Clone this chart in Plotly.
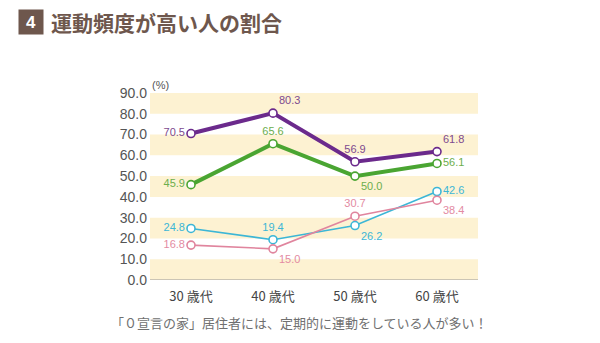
import plotly.graph_objects as go

# Age groups on the x axis
ages = ["30 歳代", "40 歳代", "50 歳代", "60 歳代"]

# Share of people who exercise frequently (%)
purple_vals = [70.5, 80.3, 56.9, 61.8]
green_vals = [45.9, 65.6, 50.0, 56.1]
blue_vals = [24.8, 19.4, 26.2, 42.6]
pink_vals = [16.8, 15.0, 30.7, 38.4]

y_ticks = [0, 10, 20, 30, 40, 50, 60, 70, 80, 90]

JP_FONT = "Noto Sans CJK JP"
NUM_FONT = "Liberation Sans, Arial"

series = [
    # values, line colour, label colour, width, label positions
    (purple_vals, "#6b2a8c", "#7d4a8f", 4,
     ["middle left", "top right", "top center", "top right"]),
    (green_vals, "#4aa532", "#6cae4c", 4,
     ["middle left", "top center", "bottom right", "middle right"]),
    (blue_vals, "#3cb6d6", "#3cb6d6", 1.6,
     ["middle left", "top center", "bottom right", "middle right"]),
    (pink_vals, "#e0859e", "#e38ba2", 1.6,
     ["middle left", "bottom right", "top center", "bottom right"]),
]

fig = go.Figure()

for vals, lc, tc, w, pos in series:
    fig.add_trace(go.Scatter(
        x=ages, y=vals,
        mode="lines+markers+text",
        line=dict(color=lc, width=w),
        marker=dict(symbol="circle", size=8, color="white",
                    line=dict(color=lc, width=1.6)),
        text=[f"{v:.1f}" for v in vals],
        textposition=pos,
        textfont=dict(family=NUM_FONT, size=11, color=tc),
        cliponaxis=False,
        showlegend=False,
        hoverinfo="skip",
    ))

# Alternating pale yellow bands every other 10% step
shapes = []
for lo in y_ticks[:-1:2]:
    shapes.append(dict(type="rect", xref="paper", yref="y",
                       x0=0, x1=1, y0=lo, y1=lo + 10,
                       fillcolor="#fdf2d2", line=dict(width=0), layer="below"))

# Baseline along the bottom of the plot area
shapes.append(dict(type="line", xref="paper", yref="y", x0=0, x1=1, y0=0, y1=0,
                   line=dict(color="#999999", width=1)))

annotations = [
    dict(text="(%)", xref="paper", yref="paper", x=0.0, y=1.0,
         xanchor="left", yanchor="bottom", showarrow=False,
         font=dict(family=NUM_FONT, size=11, color="#555555")),
    dict(text="<b>4</b>", xref="paper", yref="paper", x=-0.363, y=1.38,
         xanchor="center", yanchor="middle", showarrow=False,
         width=22, height=22, bgcolor="#6e574d",
         font=dict(family=NUM_FONT, size=17, color="white")),
    dict(text="<b>運動頻度が高い人の割合</b>", xref="paper", yref="paper",
         x=-0.307, y=1.38, xanchor="left", yanchor="middle", showarrow=False,
         font=dict(family=JP_FONT, size=21, color="#6e574d")),
    dict(text="「０宣言の家」居住者には、定期的に運動をしている人が多い！",
         xref="paper", yref="paper", x=0.457, y=-0.225,
         xanchor="center", yanchor="middle", showarrow=False,
         font=dict(family=JP_FONT, size=13, color="#707070")),
]

fig.update_layout(
    width=600, height=343,
    margin=dict(l=150, r=122, t=93, b=63, pad=0),
    paper_bgcolor="white", plot_bgcolor="white",
    shapes=shapes,
    annotations=annotations,
    xaxis=dict(
        range=[-0.5, 3.5], showgrid=False, zeroline=False,
        showline=False, ticks="", ticklabelstandoff=7,
        tickfont=dict(family=JP_FONT, size=13, color="#444444"),
    ),
    yaxis=dict(
        range=[0, 90], tickvals=y_ticks, tickformat=".1f",
        showgrid=False, zeroline=False,
        showline=False, ticks="", ticklabelstandoff=2,
        tickfont=dict(family=NUM_FONT, size=14, color="#555555"),
    ),
)

fig.write_html("out.html")
